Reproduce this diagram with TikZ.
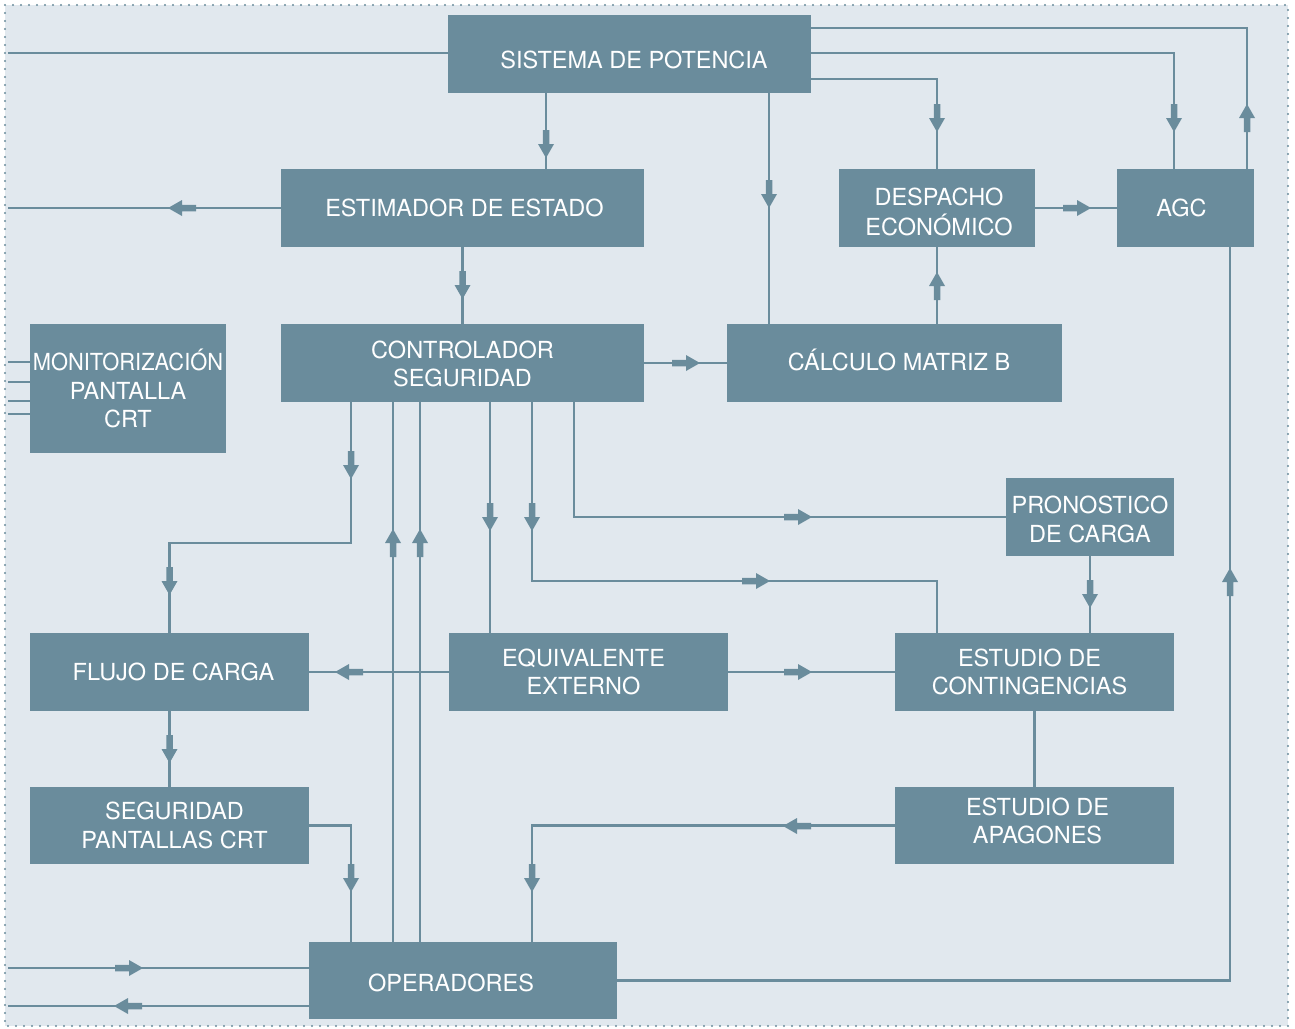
\documentclass[tikz,border=0pt]{standalone}
\usepackage{graphicx}
\usepackage{fontspec}
\setmainfont{TeX Gyre Heros}
\definecolor{boxc}{HTML}{6A8C9C}
\definecolor{bgc}{HTML}{E1E8EE}
\pgfdeclarelayer{back}
\pgfdeclarelayer{lines}
\pgfsetlayers{back,lines,main}
\newcommand{\mkr}[3]{\fill[boxc, shift={(#1,#2)}, rotate=#3] (0pt,0pt) -- (-14pt,8pt) -- (-14pt,3.25pt) -- (-28pt,3.25pt) -- (-28pt,-3.25pt) -- (-14pt,-3.25pt) -- (-14pt,-8pt) -- cycle;}
% shift text by #1 (right) and #2 (up), in pt, inside its box
\newcommand{\tx}[3]{\hspace*{\dimexpr 2\dimexpr #1pt\relax\relax}\raisebox{#2pt}[\height][\depth]{\begin{tabular}{@{}c@{}}#3\end{tabular}}}
\begin{document}
\begin{tikzpicture}[x=1pt,y=-1pt,
  box/.style={fill=boxc, draw=none, text=white, inner sep=0pt, align=center,
    font=\fontsize{23.5}{28.5}\selectfont},
  conn/.style={draw=boxc, line width=2.9pt},
  frame/.style={draw=boxc, line width=2.2pt, dash pattern=on 0pt off 8pt, line cap=round}]
\useasboundingbox (0,0) rectangle (1295,1028);
\begin{pgfonlayer}{back}
\fill[bgc] (5,5) rectangle (1288,1026);
\draw[frame] (5,5) rectangle (1288,1026);
\end{pgfonlayer}

% helper coordinates
\foreach \xx in {351,393,420,490,532,546,574,769,1174,1230,1247} {\coordinate (X\xx) at (\xx,0);}
\foreach \yy in {28,53,79,543} {\coordinate (Y\yy) at (0,\yy);}
\coordinate (K1) at (937,581);

% boxes
\node[box, minimum width=363pt, minimum height=78pt, text height=27pt, text depth=0pt] (sis) at (629.5,54) {\tx{4.5}{-2}{SISTEMA DE POTENCIA}};
\node[box, minimum width=363pt, minimum height=78pt] (est) at (462.5,208) {\tx{2}{-3}{ESTIMADOR DE ESTADO}};
\node[box, minimum width=196pt, minimum height=78pt] (desp) at (937,208) {\tx{2}{-6.5}{DESPACHO\\ECONÓMICO}};
\node[box, minimum width=137pt, minimum height=78pt] (agc) at (1185.5,208) {\tx{-4}{-3}{AGC}};
\node[box, minimum width=196pt, minimum height=129pt] (mon) at (128,388.5) {\tx{0}{-4.25}{\scalebox{0.93}[1]{MONITORIZACIÓN}\\PANTALLA\\CRT}};
\node[box, minimum width=363pt, minimum height=78pt] (ctrl) at (462.5,363) {\tx{0}{-3.75}{CONTROLADOR\\SEGURIDAD}};
\node[box, minimum width=335pt, minimum height=78pt] (calc) at (894.5,363) {\tx{4.5}{-1}{CÁLCULO MATRIZ B}};
\node[box, minimum width=168pt, minimum height=78pt] (pron) at (1090,517) {\tx{0}{-5.25}{PRONOSTICO\\DE CARGA}};
\node[box, minimum width=279pt, minimum height=78pt] (flujo) at (169.5,672) {\tx{4}{-3}{FLUJO DE CARGA}};
\node[box, minimum width=279pt, minimum height=78pt] (equiv) at (588.5,672) {\tx{-5}{-3}{EQUIVALENTE\\EXTERNO}};
\node[box, minimum width=279pt, minimum height=78pt] (cont) at (1034.5,672) {\tx{-5}{-3}{ESTUDIO DE\\CONTINGENCIAS}};
\node[box, minimum width=279pt, minimum height=77pt] (seg) at (169.5,825.5) {\tx{5}{-3}{SEGURIDAD\\PANTALLAS CRT}};
\node[box, minimum width=279pt, minimum height=77pt] (apag) at (1034.5,825.5) {\tx{3}{1.5}{ESTUDIO DE\\APAGONES}};
\node[box, minimum width=308pt, minimum height=77pt] (ops) at (463,980.5) {\tx{-12}{-5}{OPERADORES}};

% connectors
\begin{pgfonlayer}{lines}
\coordinate (E1) at (8,53);
\draw[conn] (E1) -- (E1 -| sis.west);
\draw[conn] (sis.south -| X546) -- (est.north -| X546);
\draw[conn] (sis.east |- Y53) -| (agc.north -| X1174);
\draw[conn] (agc.north -| X1247) |- (sis.east |- Y28);
\draw[conn] (sis.east |- Y79) -| (desp.north);
\draw[conn] (sis.south -| X769) -- (calc.north -| X769);
\coordinate (E7) at (8,208);
\draw[conn] (est.west) -- (est.west -| E7);
\draw[conn] (est.south) -- (ctrl.north);
\draw[conn] (ctrl.east) -- (calc.west);
\draw[conn] (calc.north -| desp.south) -- (desp.south);
\draw[conn] (desp.east) -- (agc.west);
\draw[conn] (ops.east) -| (agc.south -| X1230);
\foreach \yy in {362,382,401,414} {
  \coordinate (M) at (8,\yy);
  \draw[conn] (M) -- (M -| mon.west);
}
\draw[conn] (ctrl.south -| X351) |- (flujo.north |- Y543) -- (flujo.north);
\draw[conn] (ops.north -| X393) -- (ctrl.south -| X393);
\draw[conn] (ops.north -| X420) -- (ctrl.south -| X420);
\draw[conn] (ctrl.south -| X490) -- (equiv.north -| X490);
\draw[conn] (ctrl.south -| X532) |- (K1) -- (cont.north -| K1);
\draw[conn] (ctrl.south -| X574) |- (pron.west);
\draw[conn] (pron.south) -- (pron.south |- cont.north);
\draw[conn] (equiv.west) -- (flujo.east);
\draw[conn] (equiv.east) -- (cont.west);
\draw[conn] (flujo.south) -- (seg.north);
\draw[conn] (cont.south) -- (apag.north);
\draw[conn] (apag.west) -| (ops.north -| X532);
\draw[conn] (seg.east) -| (ops.north -| X351);
\coordinate (E26) at (8,968);
\draw[conn] (E26) -- (E26 -| ops.west);
\coordinate (E27) at (8,1006);
\draw[conn] (E27 -| ops.west) -- (E27);

% mid-line arrow markers
\mkr{546}{158}{-90}
\mkr{1174}{132}{-90}
\mkr{1247}{104}{90}
\mkr{937}{132}{-90}
\mkr{769}{208}{-90}
\mkr{168}{208}{180}
\mkr{462.5}{299}{-90}
\mkr{700}{363}{0}
\mkr{937}{272}{90}
\mkr{1091}{208}{0}
\mkr{1230}{568}{90}
\mkr{351}{479}{-90}
\mkr{169.5}{595}{-90}
\mkr{393}{529}{90}
\mkr{420}{529}{90}
\mkr{490}{531}{-90}
\mkr{532}{531}{-90}
\mkr{770}{581}{0}
\mkr{812}{517}{0}
\mkr{1090}{608}{-90}
\mkr{335}{672}{180}
\mkr{812}{672}{0}
\mkr{169.5}{763}{-90}
\mkr{783}{826}{180}
\mkr{532}{892}{-90}
\mkr{351}{892}{-90}
\mkr{143}{968}{0}
\mkr{114}{1006}{180}
\end{pgfonlayer}
\end{tikzpicture}
\end{document}
